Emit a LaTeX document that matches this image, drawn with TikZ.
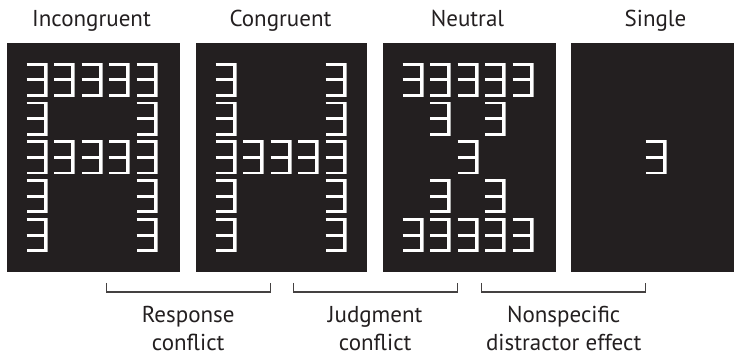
\documentclass[tikz,border=0pt]{standalone}
\usepackage{fontspec}
\setmainfont{PT Sans}
\usetikzlibrary{calc}
\definecolor{ink}{HTML}{231F20}
\begin{document}
\begin{tikzpicture}[x=1pt,y=-1pt,
  panel/.style={fill=ink, inner sep=0pt, anchor=north west, minimum height=229pt},
  title/.style={font=\fontsize{23}{28}\selectfont, text=ink, anchor=base, inner sep=0pt},
  caption/.style={font=\fontsize{23}{28.5}\selectfont, text=ink, align=center, anchor=base, inner sep=0pt},
  bracketline/.style={draw=ink!85, line width=1.4pt, line join=miter},
  glyphstroke/.style={line width=2.8pt, line cap=butt, line join=miter},
  revE/.pic={
    \draw[glyphstroke, draw=gray!65] (1.3,1.4) -- (19.8,1.4) -- (19.8,32.6) -- (1.3,32.6) (1.3,17) -- (19.8,17);
    \draw[glyphstroke, draw=white] (0,1.4) -- (18.6,1.4) -- (18.6,32.6) -- (0,32.6) (0,17) -- (18.6,17);
  }]
\useasboundingbox (0,0) rectangle (734,357);

% the four stimulus panels
\node[panel, minimum width=173pt] (p1) at (7,43) {};
\node[panel, minimum width=171pt] (p2) at (196,43) {};
\node[panel, minimum width=173pt] (p3) at (383,43) {};
\node[panel, minimum width=163pt] (p4) at (571,43) {};

% panel titles, centred over the middle glyph column
\node[title] (t1) at ($(p1.north west)+(84.5,-17)$) {Incongruent};
\node[title] (t2) at ($(p2.north west)+(84.5,-17)$) {Congruent};
\node[title] (t3) at ($(p3.north west)+(84.5,-17)$) {Neutral};
\node[title] (t4) at ($(p4.north west)+(84.5,-17)$) {Single};

% glyph grid: column k at 19.5+27.5k, row r at 19.7+38.85r from the panel corner
\foreach \r/\cols in {0/{0,1,2,3,4},1/{0,4},2/{0,1,2,3,4},3/{0,4},4/{0,4}}
  \foreach \c in \cols
    \pic at ($(p1.north west)+(19.5+27.5*\c,19.7+38.85*\r)$) {revE};
\foreach \r/\cols in {0/{0,4},1/{0,4},2/{0,1,2,3,4},3/{0,4},4/{0,4}}
  \foreach \c in \cols
    \pic at ($(p2.north west)+(19.5+27.5*\c,19.7+38.85*\r)$) {revE};
\foreach \r/\cols in {0/{0,1,2,3,4},1/{1,3},2/{2},3/{1,3},4/{0,1,2,3,4}}
  \foreach \c in \cols
    \pic at ($(p3.north west)+(19.5+27.5*\c,19.7+38.85*\r)$) {revE};
\pic at ($(p4.north west)+(19.5+27.5*2,19.7+38.85*2)$) {revE};

% brackets under the gaps between neighbouring panels
\coordinate (g1) at ($(p1.south east)!0.5!(p2.south west)$);
\coordinate (g2) at ($(p2.south east)!0.5!(p3.south west)$);
\coordinate (g3) at ($(p3.south east)!0.5!(p4.south west)$);
\foreach \g in {g1,g2,g3}
  \draw[bracketline] ($(\g)+(-82,10.5)$) -- ($(\g)+(-82,19.5)$) -- ($(\g)+(82,19.5)$) -- ($(\g)+(82,10.5)$);

% two-line captions; the base anchor sits on the second line
\node[caption] (c1) at ($(g1)+(0,78.2)$) {Response\\conflict};
\node[caption] (c2) at ($(g2)+(0,78.2)$) {Judgment\\conflict};
\node[caption] (c3) at ($(g3)+(0,78.2)$) {Nonspecific\\distractor effect};
\end{tikzpicture}
\end{document}
